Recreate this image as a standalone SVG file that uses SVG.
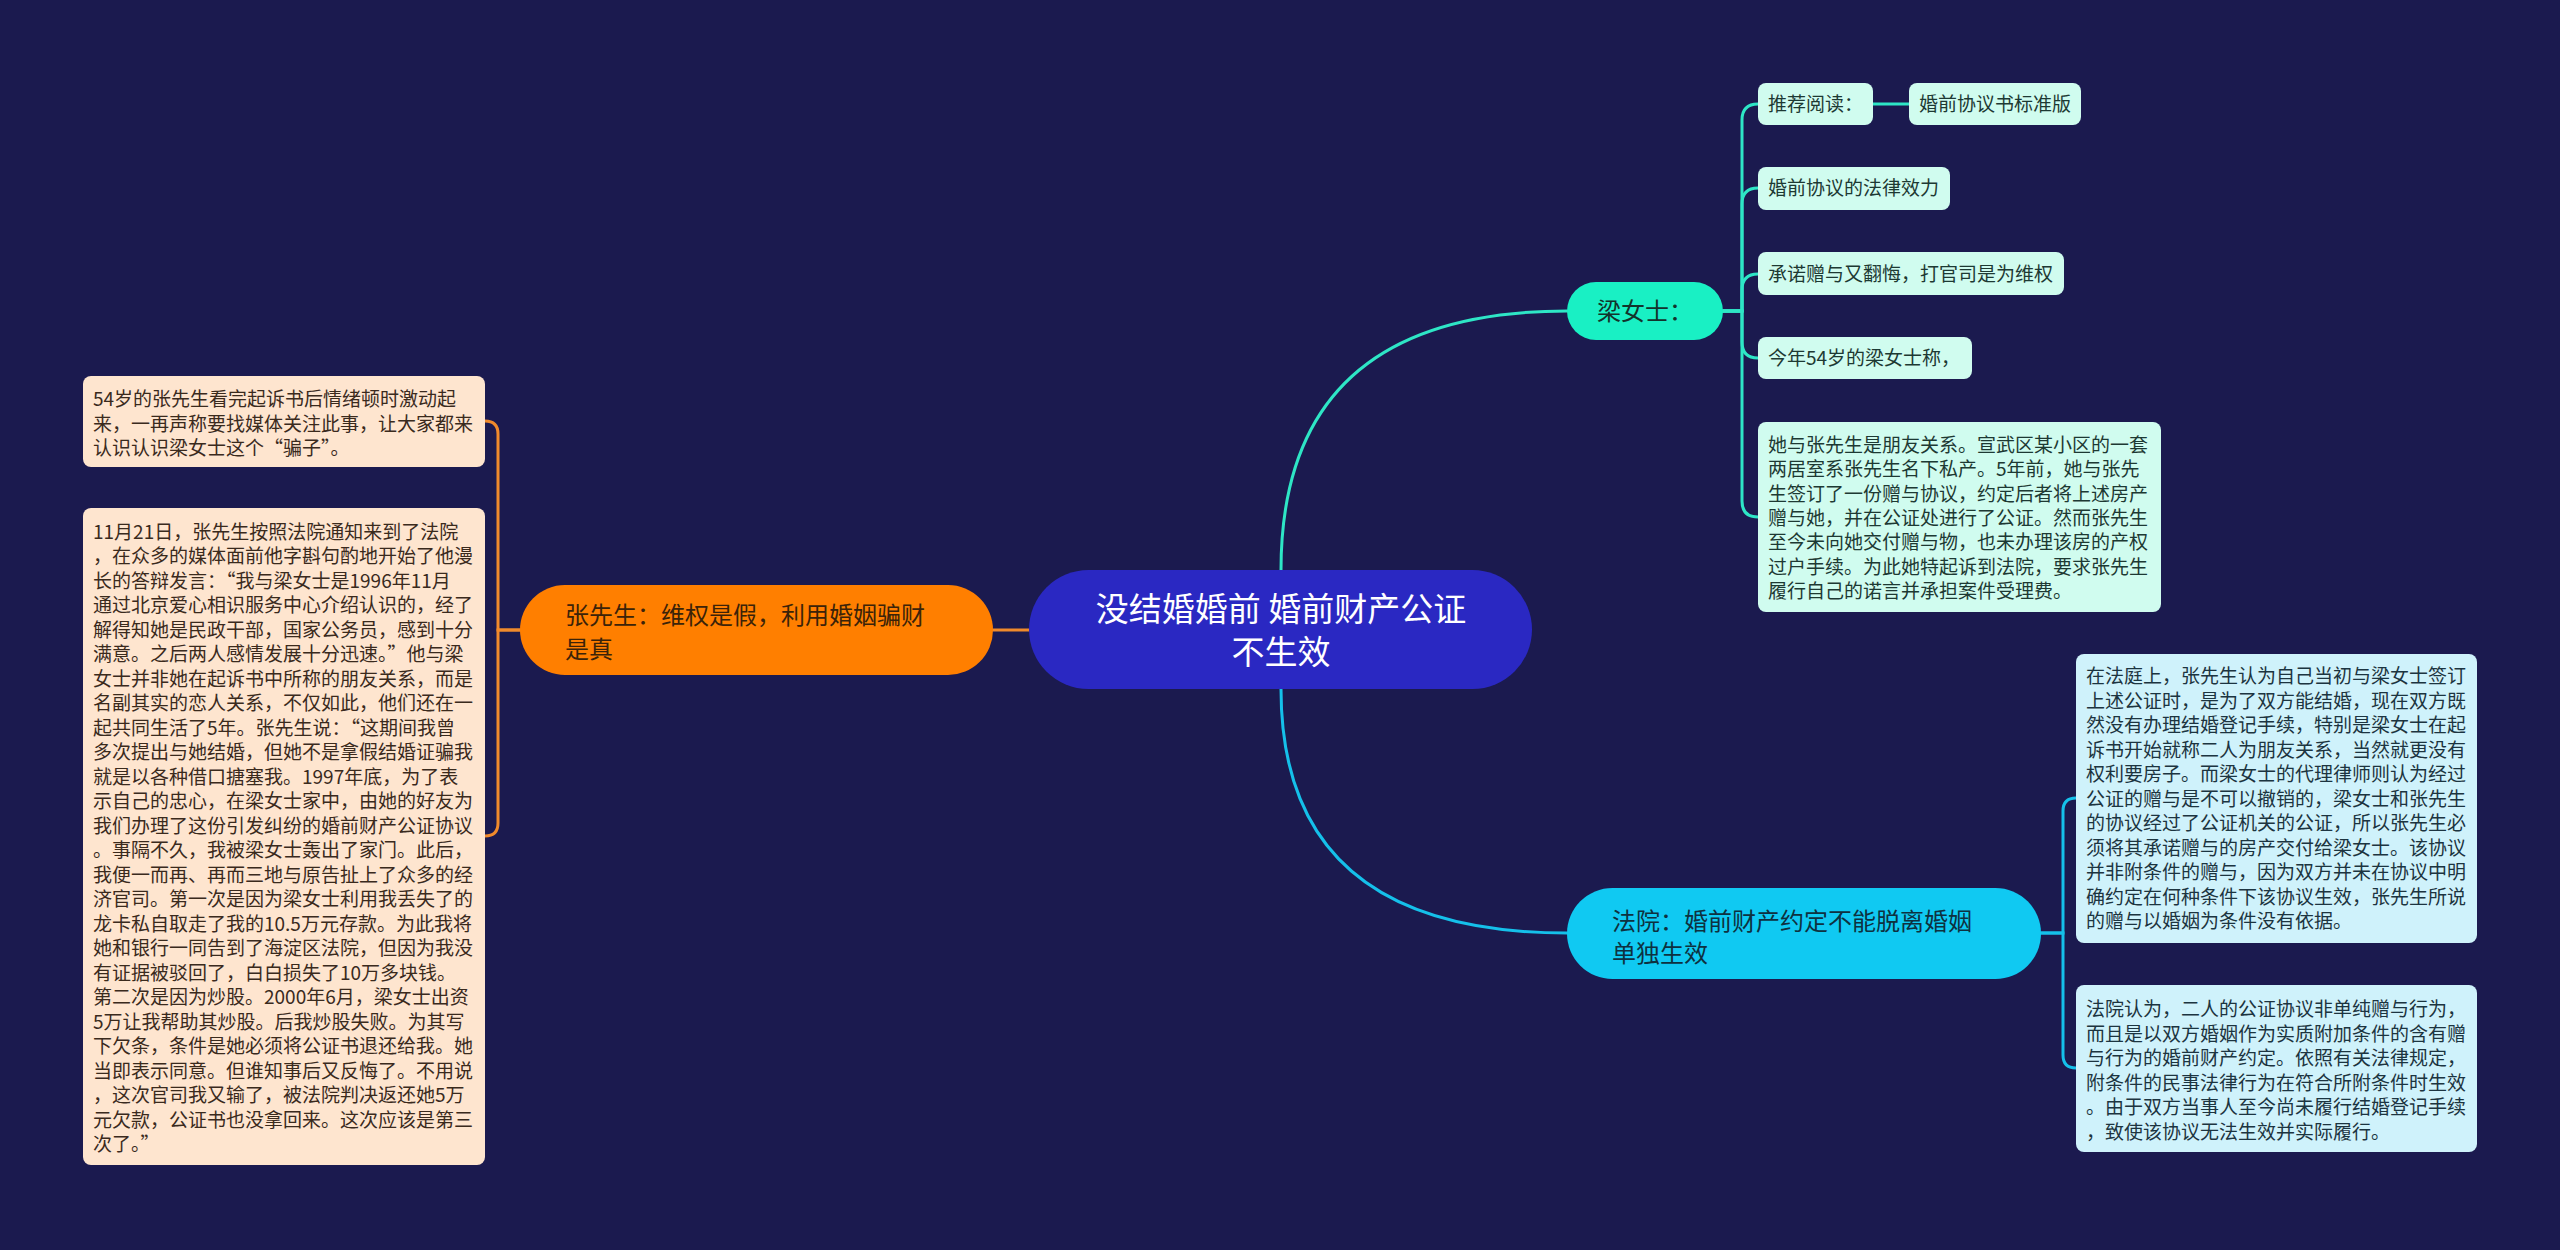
<svg xmlns="http://www.w3.org/2000/svg" width="2560" height="1250" viewBox="0 0 2560 1250">
<style>
text{font-family:"Noto Sans CJK SC","Noto Sans",sans-serif;}
.c{fill:none;stroke-width:3;stroke-linecap:round;}
.co{stroke:#f08a2c;}
.ct{stroke:#2ee6c6;}
.cc{stroke:#15c0ea;}
.t19{font-size:19px;}
.t24{font-size:24px;}
.lc{fill:#fee5cf;}
.lt{fill:#3a2a1d;}
.rc{fill:#d0fcef;}
.rt{fill:#1d3933;}
.bc{fill:#cff2fb;}
.bt{fill:#1c3440;}
</style>
<rect width="2560" height="1250" fill="#1b1a4f"/>
<g id="connectors">
<path class="c co" d="M 1029 630 H 993"/>
<path class="c ct" d="M 1281 570 Q 1281 311 1567 311"/>
<path class="c cc" d="M 1281 689 Q 1281 933 1567 933"/>
<path class="c co" d="M 520 630 H 498 V 434 Q 498 421 485 421"/>
<path class="c co" d="M 520 630 H 498 V 823 Q 498 836 485 836"/>
<path class="c ct" d="M 1723 311 H 1742 V 120 Q 1742 104 1758 104"/>
<path class="c ct" d="M 1873 104 H 1909"/>
<path class="c ct" d="M 1723 311 H 1742 V 204 Q 1742 188 1758 188"/>
<path class="c ct" d="M 1723 311 H 1742 V 290 Q 1742 274 1758 274"/>
<path class="c ct" d="M 1723 311 H 1742 V 342 Q 1742 358 1758 358"/>
<path class="c ct" d="M 1723 311 H 1742 V 501 Q 1742 517 1758 517"/>
<path class="c cc" d="M 2041 933 H 2063 V 811 Q 2063 798 2076 798"/>
<path class="c cc" d="M 2041 933 H 2063 V 1055 Q 2063 1068 2076 1068"/>
</g>
<g id="root">
<rect x="1029" y="570" width="503" height="119" rx="59.5" fill="#2a28c2"/>
<text font-size="33" fill="#ffffff" text-anchor="middle"><tspan x="1281" y="621">没结婚婚前 婚前财产公证</tspan><tspan x="1281" y="664">不生效</tspan></text>
</g>
<g id="zhang">
<rect x="520" y="585" width="473" height="90" rx="45" fill="#ff7f00"/>
<text class="t24" fill="#3b2309"><tspan x="565" y="624">张先生：维权是假，利用婚姻骗财</tspan><tspan x="565" y="658">是真</tspan></text>
</g>
<g id="zhang-1">
<rect class="lc" x="83" y="376" width="402" height="91" rx="8"/>
<text class="t19 lt"><tspan x="93" y="406">54岁的张先生看完起诉书后情绪顿时激动起</tspan><tspan x="93" y="430.5">来，一再声称要找媒体关注此事，让大家都来</tspan><tspan x="93" y="455">认识认识梁女士这个“骗子”。</tspan></text>
</g>
<g id="zhang-2">
<rect class="lc" x="83" y="508" width="402" height="657" rx="8"/>
<text class="t19 lt">
<tspan x="93" y="538.7">11月21日，张先生按照法院通知来到了法院</tspan>
<tspan x="93" y="563.2">，在众多的媒体面前他字斟句酌地开始了他漫</tspan>
<tspan x="93" y="587.7">长的答辩发言：“我与梁女士是1996年11月</tspan>
<tspan x="93" y="612.2">通过北京爱心相识服务中心介绍认识的，经了</tspan>
<tspan x="93" y="636.7">解得知她是民政干部，国家公务员，感到十分</tspan>
<tspan x="93" y="661.2">满意。之后两人感情发展十分迅速。”他与梁</tspan>
<tspan x="93" y="685.7">女士并非她在起诉书中所称的朋友关系，而是</tspan>
<tspan x="93" y="710.2">名副其实的恋人关系，不仅如此，他们还在一</tspan>
<tspan x="93" y="734.7">起共同生活了5年。张先生说：“这期间我曾</tspan>
<tspan x="93" y="759.2">多次提出与她结婚，但她不是拿假结婚证骗我</tspan>
<tspan x="93" y="783.7">就是以各种借口搪塞我。1997年底，为了表</tspan>
<tspan x="93" y="808.2">示自己的忠心，在梁女士家中，由她的好友为</tspan>
<tspan x="93" y="832.7">我们办理了这份引发纠纷的婚前财产公证协议</tspan>
<tspan x="93" y="857.2">。事隔不久，我被梁女士轰出了家门。此后，</tspan>
<tspan x="93" y="881.7">我便一而再、再而三地与原告扯上了众多的经</tspan>
<tspan x="93" y="906.2">济官司。第一次是因为梁女士利用我丢失了的</tspan>
<tspan x="93" y="930.7">龙卡私自取走了我的10.5万元存款。为此我将</tspan>
<tspan x="93" y="955.2">她和银行一同告到了海淀区法院，但因为我没</tspan>
<tspan x="93" y="979.7">有证据被驳回了，白白损失了10万多块钱。</tspan>
<tspan x="93" y="1004.2">第二次是因为炒股。2000年6月，梁女士出资</tspan>
<tspan x="93" y="1028.7">5万让我帮助其炒股。后我炒股失败。为其写</tspan>
<tspan x="93" y="1053.2">下欠条，条件是她必须将公证书退还给我。她</tspan>
<tspan x="93" y="1077.7">当即表示同意。但谁知事后又反悔了。不用说</tspan>
<tspan x="93" y="1102.2">，这次官司我又输了，被法院判决返还她5万</tspan>
<tspan x="93" y="1126.7">元欠款，公证书也没拿回来。这次应该是第三</tspan>
<tspan x="93" y="1151.2">次了。”</tspan>
</text>
</g>
<g id="liang">
<rect x="1567" y="282" width="156" height="58" rx="29" fill="#19f0c4"/>
<text class="t24" fill="#13332c" x="1597" y="320">梁女士：</text>
</g>
<g id="liang-1">
<rect class="rc" x="1758" y="83" width="115" height="42" rx="8"/>
<text class="t19 rt" x="1768" y="111">推荐阅读：</text>
</g>
<g id="liang-1-1">
<rect class="rc" x="1909" y="83" width="172" height="42" rx="8"/>
<text class="t19 rt" x="1919" y="111">婚前协议书标准版</text>
</g>
<g id="liang-2">
<rect class="rc" x="1758" y="167" width="192" height="43" rx="8"/>
<text class="t19 rt" x="1768" y="195">婚前协议的法律效力</text>
</g>
<g id="liang-3">
<rect class="rc" x="1758" y="252" width="306" height="43" rx="8"/>
<text class="t19 rt" x="1768" y="281">承诺赠与又翻悔，打官司是为维权</text>
</g>
<g id="liang-4">
<rect class="rc" x="1758" y="337" width="214" height="42" rx="8"/>
<text class="t19 rt" x="1768" y="365">今年54岁的梁女士称，</text>
</g>
<g id="liang-5">
<rect class="rc" x="1758" y="422" width="403" height="190" rx="8"/>
<text class="t19 rt">
<tspan x="1768" y="452">她与张先生是朋友关系。宣武区某小区的一套</tspan>
<tspan x="1768" y="476.3">两居室系张先生名下私产。5年前，她与张先</tspan>
<tspan x="1768" y="500.6">生签订了一份赠与协议，约定后者将上述房产</tspan>
<tspan x="1768" y="524.9">赠与她，并在公证处进行了公证。然而张先生</tspan>
<tspan x="1768" y="549.2">至今未向她交付赠与物，也未办理该房的产权</tspan>
<tspan x="1768" y="573.5">过户手续。为此她特起诉到法院，要求张先生</tspan>
<tspan x="1768" y="597.8">履行自己的诺言并承担案件受理费。</tspan>
</text>
</g>
<g id="court">
<rect x="1567" y="888" width="474" height="91" rx="45.5" fill="#10c9f2"/>
<text class="t24" fill="#0e3140"><tspan x="1612" y="930">法院：婚前财产约定不能脱离婚姻</tspan><tspan x="1612" y="962">单独生效</tspan></text>
</g>
<g id="court-1">
<rect class="bc" x="2076" y="654" width="401" height="289" rx="8"/>
<text class="t19 bt">
<tspan x="2086" y="683">在法庭上，张先生认为自己当初与梁女士签订</tspan>
<tspan x="2086" y="707.5">上述公证时，是为了双方能结婚，现在双方既</tspan>
<tspan x="2086" y="732">然没有办理结婚登记手续，特别是梁女士在起</tspan>
<tspan x="2086" y="756.5">诉书开始就称二人为朋友关系，当然就更没有</tspan>
<tspan x="2086" y="781">权利要房子。而梁女士的代理律师则认为经过</tspan>
<tspan x="2086" y="805.5">公证的赠与是不可以撤销的，梁女士和张先生</tspan>
<tspan x="2086" y="830">的协议经过了公证机关的公证，所以张先生必</tspan>
<tspan x="2086" y="854.5">须将其承诺赠与的房产交付给梁女士。该协议</tspan>
<tspan x="2086" y="879">并非附条件的赠与，因为双方并未在协议中明</tspan>
<tspan x="2086" y="903.5">确约定在何种条件下该协议生效，张先生所说</tspan>
<tspan x="2086" y="928">的赠与以婚姻为条件没有依据。</tspan>
</text>
</g>
<g id="court-2">
<rect class="bc" x="2076" y="985" width="401" height="167" rx="8"/>
<text class="t19 bt">
<tspan x="2086" y="1016">法院认为，二人的公证协议非单纯赠与行为，</tspan>
<tspan x="2086" y="1040.5">而且是以双方婚姻作为实质附加条件的含有赠</tspan>
<tspan x="2086" y="1065">与行为的婚前财产约定。依照有关法律规定，</tspan>
<tspan x="2086" y="1089.5">附条件的民事法律行为在符合所附条件时生效</tspan>
<tspan x="2086" y="1114">。由于双方当事人至今尚未履行结婚登记手续</tspan>
<tspan x="2086" y="1138.5">，致使该协议无法生效并实际履行。</tspan>
</text>
</g>
</svg>
